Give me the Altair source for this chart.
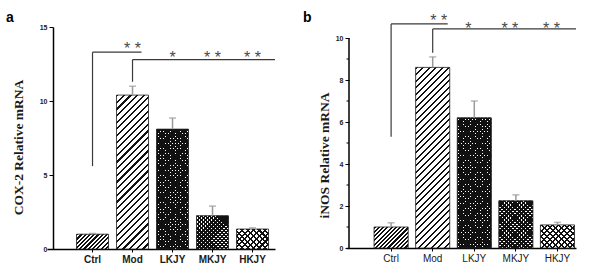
import altair as alt
import pandas as pd

cats = ["Ctrl", "Mod", "LKJY", "MKJY", "HKJY"]

# panel a: COX-2
cox_vals = [1.0, 10.4, 8.1, 2.25, 1.35]
cox_errs = [0.05, 0.6, 0.75, 0.65, 0.08]
# panel b: iNOS
inos_vals = [1.0, 8.6, 6.2, 2.25, 1.1]
inos_errs = [0.2, 0.5, 0.8, 0.28, 0.12]

# significance brackets: (from, to, low, high) and (from, low, high)
cox_br1 = ("Ctrl", "Mod", 5.6, 13.3)
cox_br2 = ("Mod", 11.3, 12.8)
inos_br1 = ("Ctrl", "Mod", 5.3, 10.67)
inos_br2 = ("Mod", 9.3, 10.43)
star_cats = ["Mod", "LKJY", "MKJY", "HKJY"]
star_text = ["* *", "*", "* *", "* *"]
inos_minor = [1, 3, 5, 7, 9]

# hatch styles per category: (base colour, list of (direction, period, line fraction))
HATCH = {
    "Ctrl": ("#8a8a8a", [("/", 4.4, 0.5)]),
    "Mod": ("#b0b0b0", [("/", 6.6, 0.33)]),
    "LKJY": ("white", [("/", 3.4, 0.75), ("\\", 3.4, 0.75)]),
    "MKJY": ("white", [("/", 4.2, 0.6), ("\\", 4.2, 0.6)]),
    "HKJY": ("white", [("/", 6.0, 0.36), ("\\", 6.0, 0.36)]),
}
LINE = "#111111"
CLEAR = "rgba(255,255,255,0)"


def stripes(gid, w, h, period, frac, direction, gap=CLEAR):
    n = max(1, round((w + h) / period))
    k = w * (w + h) / (w * w + h * h)
    s = 1.0
    if k * h / w < 0.65:
        s = 1.0 / (k * h / w)
    stops = []
    for i in range(n):
        a, b, c = i / n / s, (i + frac) / n / s, (i + 1) / n / s
        stops += [
            {"offset": round(a, 5), "color": LINE},
            {"offset": round(b, 5), "color": LINE},
            {"offset": round(b, 5), "color": gap},
            {"offset": round(c, 5), "color": gap},
        ]
    if s > 1:
        stops.append({"offset": 1, "color": gap})
    k *= s
    if direction == "/":
        x1, y1, x2, y2 = 0, 0, k, k * h / w
    else:
        x1, y1, x2, y2 = 0, 1, k, 1 - k * h / w
    return {"gradient": "linear", "id": gid, "x1": x1, "y1": y1, "x2": x2, "y2": y2,
            "stops": stops}


def panel(key, vals, errs, ymax, axis_top, ticks, width, height, pi, po, align, yoff,
          ytitle, title_x, title_y, letter, letter_x, br1, br2, label_weight, x2off,
          star_dy, star_dx, minor=None):
    df = pd.DataFrame({"cat": cats, "val": vals, "err": errs})
    df["top"] = df["val"] + df["err"]
    step = width / (len(cats) - pi + 2 * po)
    bw = step * (1 - pi)
    ppu = height / ymax

    xs = alt.Scale(domain=cats, paddingInner=pi, paddingOuter=po, align=align)
    ys = alt.Scale(domain=[0, ymax], nice=False)
    xax = alt.Axis(title=None, labelAngle=0, tickSize=3, tickColor="black",
                   domainColor="black", domainWidth=1.5, labelFont="Liberation Sans",
                   labelFontSize=10, labelFontWeight=label_weight, labelColor="#1a1a1a",
                   labelPadding=2)
    draw_domain = axis_top >= ymax
    yax = alt.Axis(title=None, values=ticks, tickSize=4, tickColor="black",
                   domain=draw_domain, domainColor="black", domainWidth=1.5,
                   labelFont="Liberation Sans",
                   labelFontSize=7, labelFontWeight="bold", labelColor="#1a1a1a",
                   labelPadding=2, grid=False, offset=yoff)

    base = alt.Chart(df)
    enc0 = dict(x=alt.X("cat:N", scale=xs, axis=xax, sort=cats),
                y=alt.Y("val:Q", scale=ys, axis=yax))
    layers = []
    for i, c in enumerate(cats):
        h = vals[i] * ppu
        basecol, hatches = HATCH[c]
        sub = base.transform_filter(alt.datum.cat == c)
        if len(hatches) == 1:
            # grey tone underneath, covered by the opaque stripe gradient
            layers.append(sub.mark_bar(fill=basecol, strokeWidth=0).encode(**enc0))
            d, p, f = hatches[0]
            layers.append(sub.mark_bar(fill=stripes(f"h{key}{i}", bw, h, p, f, d, gap="#ffffff"),
                                       stroke="#222222", strokeWidth=0.8).encode(**enc0))
            continue
        layers.append(sub.mark_bar(fill=basecol, strokeWidth=0).encode(**enc0))
        for j, (d, p, f) in enumerate(hatches):
            gid = f"h{key}{i}{j}"
            layers.append(sub.mark_bar(fill=stripes(gid, bw, h, p, f, d),
                                       strokeWidth=0).encode(**enc0))
        layers.append(sub.mark_bar(fill=CLEAR, stroke="#222222", strokeWidth=0.8).encode(**enc0))

    if not draw_domain:
        ax_x = -yoff
        layers.append(alt.Chart(pd.DataFrame({"lo": [0], "hi": [axis_top]})).mark_rule(
            color="black", strokeWidth=1.5).encode(
            x=alt.value(ax_x), y=alt.Y("lo:Q", scale=ys), y2="hi:Q"))
    if minor:
        ax_x = -yoff
        layers.append(alt.Chart(pd.DataFrame({"m": minor})).mark_rule(
            color="black", strokeWidth=1).encode(
            x=alt.value(ax_x - 2.5), x2=alt.value(ax_x), y=alt.Y("m:Q", scale=ys)))

    # error bars (upper only)
    layers.append(base.mark_rule(color="#9a9a9a", strokeWidth=1.5).encode(
        x=alt.X("cat:N", sort=cats), y="val:Q", y2="top:Q"))
    layers.append(base.mark_tick(color="#9a9a9a", thickness=1.5, size=7).encode(
        x=alt.X("cat:N", sort=cats), y="top:Q"))

    # brackets
    b1 = pd.DataFrame({"a": [br1[0]], "b": [br1[1]], "lo": [br1[2]], "hi": [br1[3]]})
    b2 = pd.DataFrame({"a": [br2[0]], "lo": [br2[1]], "hi": [br2[2]]})
    lc = "#3a3a3a"
    layers.append(alt.Chart(b1).mark_rule(color=lc, strokeWidth=1.2, clip=False).encode(
        x=alt.X("a:N", sort=cats), y="lo:Q", y2="hi:Q"))
    layers.append(alt.Chart(b1).mark_rule(color=lc, strokeWidth=1.2, clip=False,
                                          x2Offset=x2off).encode(
        x=alt.X("a:N", sort=cats), x2="b:N", y="hi:Q"))
    layers.append(alt.Chart(b2).mark_rule(color=lc, strokeWidth=1.2, clip=False).encode(
        x=alt.X("a:N", sort=cats), y="lo:Q", y2="hi:Q"))
    layers.append(alt.Chart(b2).mark_rule(color=lc, strokeWidth=1.2, clip=False).encode(
        x=alt.X("a:N", sort=cats), x2=alt.value("width"), y="hi:Q"))

    sdf = pd.DataFrame({"cat": star_cats, "t": star_text,
                        "y": [br1[3]] + [br2[2]] * 3})
    layers.append(alt.Chart(sdf.iloc[:1]).mark_text(
        fontSize=16, color="#484848", baseline="alphabetic", clip=False,
        dy=star_dy[0], dx=star_dx[0], font="Liberation Sans").encode(
        x=alt.X("cat:N", sort=cats), y="y:Q", text="t:N"))
    layers.append(alt.Chart(sdf.iloc[1:]).mark_text(
        fontSize=16, color="#484848", baseline="alphabetic", clip=False,
        dy=star_dy[1], dx=star_dx[1], font="Liberation Sans").encode(
        x=alt.X("cat:N", sort=cats), y="y:Q", text="t:N"))

    # y-axis title
    layers.append(alt.Chart(pd.DataFrame({"t": [ytitle]})).mark_text(
        font="Liberation Serif", fontSize=13.5, fontWeight="bold", color="#1a1a1a",
        angle=270, align="center", baseline="middle", clip=False).encode(
        text="t:N", x=alt.value(title_x), y=alt.value(title_y)))

    lab = alt.Chart(pd.DataFrame({"t": [letter]})).mark_text(
        fontSize=14, fontWeight="bold", font="Liberation Sans", align="left",
        baseline="alphabetic", clip=False).encode(
        text="t:N", x=alt.value(letter_x), y=alt.value(-5))
    layers.append(lab)
    return alt.layer(*layers).properties(width=width, height=height)


pa = panel("a", cox_vals, cox_errs, 15, 15, [0, 5, 10, 15], 228, 222, 0.2, 0.45, 0.82, -6,
           "COX-2 Relative mRNA", -28.5, 120.5, "a", -41, cox_br1, cox_br2, "bold", 9,
           (2, 3), (0, 0))
pb = panel("b", inos_vals, inos_errs, 10 * 221 / 210, 10, [0, 2, 4, 6, 8, 10], 230, 221,
           0.18, 0.355, 0.95, -3, "iNOS Relative mRNA", -21.5, 128.5, "b", -43,
           inos_br1, inos_br2, "normal", 15, (2, 5), (6, -6), minor=inos_minor)

chart = alt.hconcat(pa, pb, spacing=27).configure_view(stroke=None).properties(
    padding={"left": 6, "top": 11, "right": 0, "bottom": 0}, background="white")

chart.save("out.html", embed_options={"renderer": "svg", "actions": False})
